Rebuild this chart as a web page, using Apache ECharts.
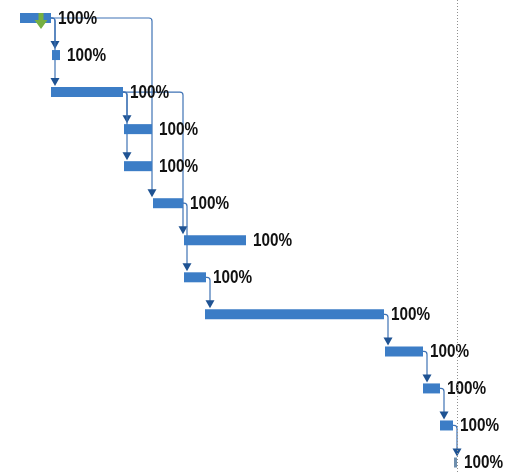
<!DOCTYPE html>
<html>
<head>
<meta charset="utf-8">
<style>
  html, body { margin: 0; padding: 0; background: #fff; }
  #gantt { width: 510px; height: 474px; }
</style>
<script src="https://cdn.jsdelivr.net/npm/echarts@6/dist/echarts.min.js"></script>
</head>
<body>
<div id="gantt"></div>
<script>
// task rows, top to bottom
const tasks = ['Task 1', 'Task 2', 'Task 3', 'Task 4', 'Task 5', 'Task 6', 'Task 7',
  'Task 8', 'Task 9', 'Task 10', 'Task 11', 'Task 12', 'Task 13']
// start / finish on the time scale
const taskStart = [20, 52, 51, 124, 124, 153, 184, 184, 205, 385, 423, 440, 454]
const taskEnd = [51, 60, 123, 152, 152, 183, 246, 206, 384, 423, 440, 453, 457]
const percentDone = [100, 100, 100, 100, 100, 100, 100, 100, 100, 100, 100, 100, 100]
// finish-to-start links [from, to]
const links = [[0, 1], [0, 2], [0, 5], [2, 3], [2, 4], [2, 6], [5, 7], [7, 8], [8, 9], [9, 10], [10, 11], [11, 12]]
// status date line and the green marker on the first task
const statusDate = 457
const currentMarker = [[41, 0]]

const barColor = '#3c7dc6'
const linkColor = '#3f73b5'
const arrowColor = '#1f5393'
const barH = 10

let myChart = echarts.init(document.getElementById('gantt'))

let option = {
  animation: false,
  grid: { left: 0, right: 0, top: 0, bottom: 0 },
  xAxis: { type: 'value', min: 0, max: 510, show: false },
  // one unit per task row
  yAxis: { type: 'value', inverse: true, min: -0.486, max: 12.31, show: false },
  series: [
    {
      type: 'line',
      name: 'status',
      data: [],
      markLine: {
        silent: true,
        symbol: 'none',
        label: { show: false },
        lineStyle: { type: [1, 2], color: '#8f8f8f', width: 1 },
        data: [{ xAxis: statusDate }]
      }
    },
    {
      // links drawn first, bars on top
      type: 'custom',
      name: 'links',
      data: links,
      renderItem: function (params, api) {
        let from = api.value(0)
        let to = api.value(1)
        let p0 = api.coord([taskEnd[from], from])
        let pT = api.coord([taskStart[to], to])
        let vx = Math.max(pT[0] - 1, p0[0] + 4)
        let tipY = pT[1] - barH / 2 - 1
        let r = 3
        let path = 'M' + p0[0] + ' ' + p0[1] +
          ' L' + (vx - r) + ' ' + p0[1] +
          ' Q' + vx + ' ' + p0[1] + ' ' + vx + ' ' + (p0[1] + r) +
          ' L' + vx + ' ' + (tipY - 6)
        return {
          type: 'group',
          children: [
            {
              type: 'path',
              shape: { pathData: path },
              style: { stroke: linkColor, lineWidth: 1.2, fill: null }
            },
            {
              type: 'polygon',
              shape: { points: [[vx - 4.5, tipY - 8], [vx + 4.5, tipY - 8], [vx, tipY]] },
              style: { fill: arrowColor }
            }
          ]
        }
      },
      z: 2
    },
    {
      type: 'custom',
      name: 'tasks',
      data: tasks.map((t, i) => [taskStart[i], taskEnd[i], i, percentDone[i]]),
      encode: { x: [0, 1], y: 2 },
      renderItem: function (params, api) {
        let row = api.value(2)
        let a = api.coord([api.value(0), row])
        let b = api.coord([api.value(1), row])
        return {
          type: 'group',
          children: [
            {
              type: 'rect',
              shape: { x: a[0], y: a[1] - barH / 2, width: Math.max(b[0] - a[0], 2), height: barH },
              style: { fill: row === 12 ? '#6f8fae' : barColor }
            },
            {
              type: 'text',
              x: b[0] + 7,
              y: a[1] + 1,
              scaleX: 0.85,
              style: {
                x: 0,
                y: 0,
                text: api.value(3) + '%',
                fill: '#111',
                font: 'bold 18px "Liberation Sans", Arial, sans-serif',
                verticalAlign: 'middle'
              }
            }
          ]
        }
      },
      z: 3
    },
    {
      type: 'custom',
      name: 'marker',
      data: currentMarker,
      renderItem: function (params, api) {
        let p = api.coord([api.value(0), api.value(1)])
        let x = p[0], y = p[1]
        return {
          type: 'polygon',
          shape: {
            points: [[x - 2.5, y - 5], [x + 2.5, y - 5], [x + 2.5, y + 2], [x + 6.5, y + 2],
              [x, y + 11], [x - 6.5, y + 2], [x - 2.5, y + 2]]
          },
          style: { fill: '#76b041' }
        }
      },
      z: 4
    }
  ]
}

myChart.setOption(option)
window.addEventListener('resize', function () {
  myChart.resize()
})
</script>
</body>
</html>
